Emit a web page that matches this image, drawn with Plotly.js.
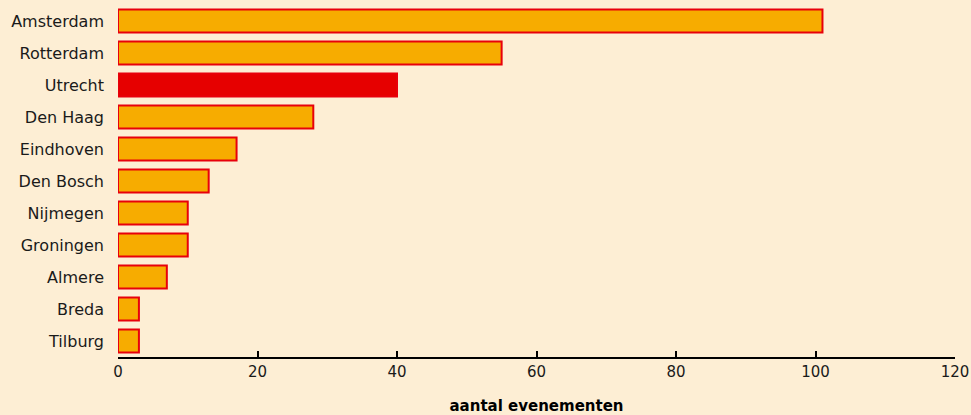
<!DOCTYPE html>
<html><head><meta charset="utf-8">
<script src="https://cdn.plot.ly/plotly-3.0.1.min.js"></script>
<style>html,body{margin:0;padding:0;background:#FDEED4;}</style>
</head><body>
<div id="chart" style="width:971px;height:415px;"></div>
<script>
const cities = ["Amsterdam","Rotterdam","Utrecht","Den Haag","Eindhoven","Den Bosch","Nijmegen","Groningen","Almere","Breda","Tilburg"];
const counts = [101,55,40,28,17,13,10,10,7,3,3];
const highlight = "Utrecht";
const xTicks = [0,20,40,60,80,100,120];

const fills = cities.map(c => c === highlight ? "#E60000" : "#F7AC00");
const font = "DejaVu Sans, sans-serif";

Plotly.newPlot("chart", [{
  type: "bar",
  orientation: "h",
  y: cities,
  x: counts,
  width: 0.72,
  marker: {color: fills, line: {color: "#E8000B", width: 2}},
  hoverinfo: "x+y"
}], {
  width: 971, height: 415,
  paper_bgcolor: "#FDEED4",
  plot_bgcolor: "#FDEED4",
  margin: {l: 118, r: 16, t: 5, b: 58},
  showlegend: false,
  font: {family: font, size: 16, color: "#1a1a1a"},
  xaxis: {
    range: [0, 120],
    tickvals: xTicks,
    ticktext: xTicks.map(String),
    showgrid: false,
    zeroline: false,
    showline: true,
    linecolor: "#000",
    linewidth: 2,
    ticks: "inside",
    ticklen: 6,
    tickwidth: 2,
    tickcolor: "#000",
    tickfont: {family: font, size: 15, color: "#1a1a1a"},
    title: {text: "<b>aantal evenementen</b>", font: {family: font, size: 15, color: "#000"}, standoff: 20}
  },
  yaxis: {
    categoryorder: "array",
    categoryarray: cities.slice().reverse(),
    showgrid: false,
    zeroline: false,
    showline: false,
    ticks: "",
    ticklabelstandoff: 13,
    tickfont: {family: font, size: 16, color: "#1a1a1a"}
  }
}, {displayModeBar: false, staticPlot: true});
</script>
</body></html>
